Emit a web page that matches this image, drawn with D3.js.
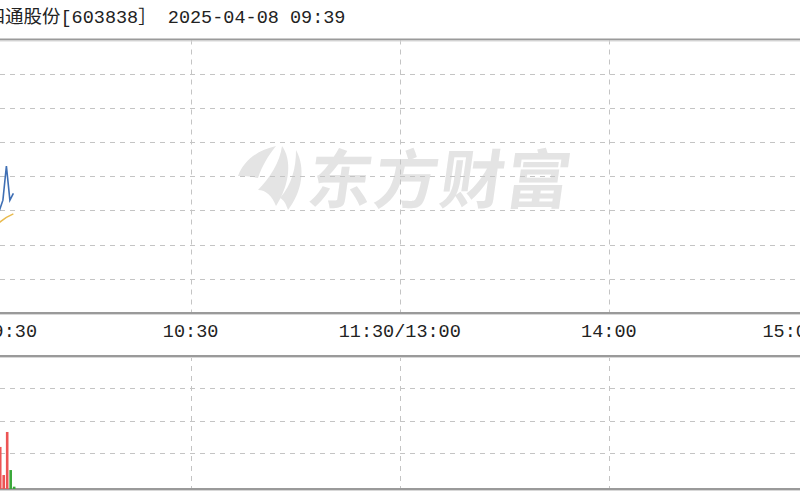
<!DOCTYPE html>
<html>
<head>
<meta charset="utf-8">
<script src="https://cdn.jsdelivr.net/npm/d3@7"></script>
<style>
  html, body { margin: 0; padding: 0; background: #fff; overflow: hidden; }
  svg { display: block; }
</style>
</head>
<body>
<svg id="chart" width="800" height="500"></svg>
<script>
// ---- data ----
const titleName = "四通股份";
const titleCode = "[603838］";
const titleTime = "2025-04-08 09:39";
const prevClose = 10.00;
const minutes = [0, 1, 2, 3, 4, 5, 6, 7, 8, 9];              // minutes after 09:30
const price   = [9.62, 9.70, 9.74, 9.72, 9.76, 9.80, 9.86, 10.06, 9.86, 9.90];
const avgPrice= [9.62, 9.66, 9.69, 9.70, 9.71, 9.73, 9.745, 9.76, 9.77, 9.78];
const volume  = [5200, 3100, 2400, 1800, 2000, 2530, 840, 3430, 1140, 140];
const volDir  = ["r", "r", "g", "g", "r", "r", "r", "r", "g", "g"];
const timeTicks  = [0, 60, 120, 180, 240];
const timeLabels = ["09:30", "10:30", "11:30/13:00", "14:00", "15:00"];
const priceGridSteps = [-3, -2, -1, 0, 1, 2, 3];
const volGridSteps = [1, 2, 3];

// ---- layout ----
const svg = d3.select("#chart");
const top1 = 39.5, bot1 = 313, top2 = 356, bot2 = 489;
const x = d3.scaleLinear().domain([0, 240]).range([-18.5, 818]);
const y = d3.scaleLinear().domain([prevClose - 0.8, prevClose + 0.8]).range([bot1, top1]);
const yv = d3.scaleLinear().domain([0, 8000]).range([bot2, top2]);
const yvGrid = d3.scaleLinear().domain([0, 4]).range([485, top2]);

const gridColor = "#c4c4c4";
const monoFont = "'Liberation Mono', 'DejaVu Sans Mono', 'Noto Sans CJK SC', monospace";

// ---- watermark ----
const wm = svg.append("g").attr("fill", "#e4e4e4");
wm.append("path")
  .attr("d", "M238,176 C244,160 258,150 276,146 C268,156 262,166 258,178 C250,176 244,176 238,176 Z");
wm.append("path")
  .attr("d", "M282,146 C292,160 290,184 276,206 C272,196 266,190 258,190 C270,178 280,162 282,146 Z");
wm.append("path")
  .attr("d", "M296,150 C306,168 302,192 288,210 C286,204 284,200 280,198 C292,184 296,168 296,150 Z");
wm.append("text")
  .attr("x", 306).attr("y", 203)
  .attr("transform", "skewX(-8) translate(28,0)")
  .attr("font-family", "'Noto Sans CJK SC', sans-serif")
  .attr("font-weight", "bold")
  .attr("font-size", 64)
  .attr("letter-spacing", 2)
  .text("东方财富");

// ---- grids ----
const grid = svg.append("g")
  .attr("stroke", gridColor).attr("stroke-width", 1).attr("stroke-dasharray", "5,5").attr("fill", "none");
grid.selectAll(".hp").data(priceGridSteps).join("line")
  .attr("x1", 0).attr("x2", 800)
  .attr("y1", d => Math.round(y(prevClose + d * 0.2)) + 0.5)
  .attr("y2", d => Math.round(y(prevClose + d * 0.2)) + 0.5);
grid.selectAll(".hv").data(volGridSteps).join("line")
  .attr("x1", 0).attr("x2", 800)
  .attr("y1", d => Math.round(yvGrid(d)) + 0.5)
  .attr("y2", d => Math.round(yvGrid(d)) + 0.5);
const innerTicks = timeTicks.slice(1, -1);
grid.selectAll(".vp").data(innerTicks).join("line")
  .attr("x1", d => Math.round(x(d)) + 0.5).attr("x2", d => Math.round(x(d)) + 0.5)
  .attr("y1", top1).attr("y2", bot1);
grid.selectAll(".vv").data(innerTicks).join("line")
  .attr("x1", d => Math.round(x(d)) + 0.5).attr("x2", d => Math.round(x(d)) + 0.5)
  .attr("y1", top2).attr("y2", bot2);

// ---- borders ----
const border = svg.append("g").attr("stroke", "#9a9a9a").attr("stroke-width", 2);
[top1, bot1, top2, bot2].forEach(v => {
  border.append("line").attr("x1", 0).attr("x2", 800).attr("y1", v).attr("y2", v);
});
const border2 = svg.append("g").attr("stroke", "#d8d8d8").attr("stroke-width", 1);
[top1, bot1, top2, bot2].forEach(v => {
  border2.append("line").attr("x1", 0).attr("x2", 800).attr("y1", v + 1.5).attr("y2", v + 1.5);
});

// ---- volume bars ----
svg.append("g").selectAll("rect").data(minutes).join("rect")
  .attr("x", (d, i) => x(d))
  .attr("width", 2.6)
  .attr("y", (d, i) => yv(volume[i]))
  .attr("height", (d, i) => bot2 - yv(volume[i]))
  .attr("fill", (d, i) => volDir[i] === "r" ? "#ec5454" : "#3aa83a");

// ---- price + avg lines ----
const line = d3.line().x(d => x(d[0]) + 0.5).y(d => y(d[1]));
svg.append("path")
  .datum(minutes.map((m, i) => [m, avgPrice[i]]))
  .attr("d", line).attr("fill", "none")
  .attr("stroke", "#e9bb50").attr("stroke-width", 1.5);
svg.append("path")
  .datum(minutes.map((m, i) => [m, price[i]]))
  .attr("d", line).attr("fill", "none")
  .attr("stroke", "#3f6fb4").attr("stroke-width", 1.6);

// ---- time axis labels ----
svg.append("g").selectAll("text").data(timeTicks).join("text")
  .attr("x", (d, i) => x(d))
  .attr("y", 337)
  .attr("text-anchor", (d, i) => i === 0 ? "start" : (i === timeTicks.length - 1 ? "end" : "middle"))
  .attr("font-family", monoFont)
  .attr("font-size", 18.5)
  .attr("fill", "#222")
  .text((d, i) => timeLabels[i]);

// ---- title ----
svg.append("text")
  .attr("x", -13.5).attr("y", 23)
  .attr("font-family", monoFont)
  .attr("font-size", 18.5)
  .attr("fill", "#222")
  .attr("xml:space", "preserve")
  .text(titleName + titleCode + " " + titleTime);
</script>
</body>
</html>
